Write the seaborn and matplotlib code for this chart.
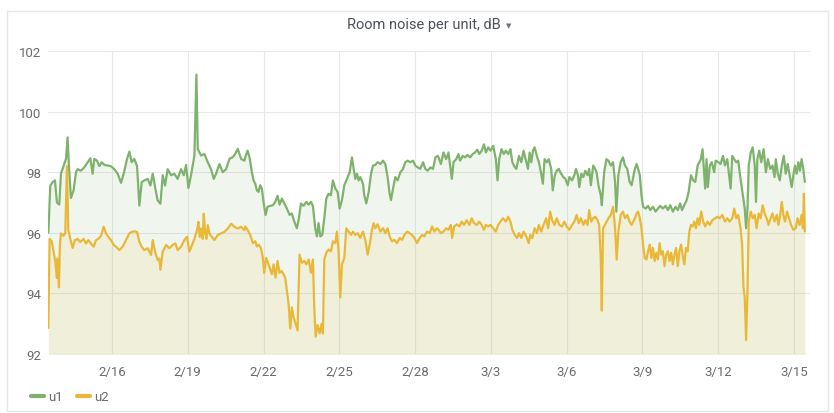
import pandas as pd
import numpy as np
import matplotlib
matplotlib.use("Agg")
import matplotlib.pyplot as plt
from matplotlib.lines import Line2D
from matplotlib.patches import Rectangle
import seaborn as sns

# Set style
sns.set_theme(style="white")
plt.rcParams['font.family'] = ['Roboto', 'DejaVu Sans']

# Data: hours after 2/16 00:00 and noise level in dB
u1_hours = [
    -60.5, -58.6, -56.4, -54.2, -52.3, -50.1, -48.5, -46.0, -43.7, -42.2,
    -40.9, -39.0, -36.5, -34.2, -32.7, -29.5, -26.3, -23.1, -20.6, -18.4,
    -16.8, -14.3, -12.0, -9.8, -7.3, -4.1, -1.0, 2.2, 5.4, 8.6,
    11.1, 14.3, 16.5, 18.7, 21.2, 23.8, 26.0, 28.2, 30.7, 33.9,
    36.5, 38.7, 41.8, 43.4, 46.0, 48.2, 50.4, 52.9, 56.1, 59.3,
    62.4, 65.6, 68.2, 70.4, 72.6, 75.1, 78.3, 80.2, 81.5, 84.6,
    87.8, 91.0, 94.1, 96.7, 98.9, 102.1, 105.2, 108.4, 111.6, 114.8,
    117.0, 119.5, 122.7, 125.8,
    126.6, 128.8, 130.7, 132.9, 134.5, 136.1, 137.7, 139.2, 140.8, 142.4,
    144.0, 145.9, 147.8, 150.3, 152.9, 155.1, 157.3, 159.2, 161.4, 163.7,
    166.2, 168.7, 170.9, 173.2, 175.7, 177.6, 179.5, 182.0, 184.6, 186.8,
    189.0, 190.9, 193.1, 194.7, 196.3, 197.9, 199.8, 201.7, 203.6, 205.8,
    208.0, 209.9, 212.2, 214.4, 216.3, 218.5, 220.7, 223.3, 225.8, 228.0,
    229.6, 231.2, 232.8, 234.3, 235.9, 238.5, 239.7, 241.6, 243.9, 246.1,
    248.0, 250.2, 252.4, 255.0, 257.5, 259.7, 261.9, 263.8, 265.1, 267.0,
    269.2, 271.4, 274.0, 276.5, 278.7, 280.9, 283.5, 286.0, 288.2, 290.5,
    293.0, 295.5, 297.7, 300.0, 302.5, 305.0, 307.3, 309.5,
    310.3, 312.5, 315.0, 317.5, 319.7, 321.9, 322.9, 324.5, 327.0, 329.2,
    330.7, 333.3, 335.5, 337.7, 340.2, 342.7, 344.9, 347.1, 349.0, 351.2,
    353.4, 355.3, 357.5, 359.7, 362.2, 364.7, 366.3, 367.9, 370.1, 372.3,
    374.2, 376.4, 378.6, 380.4, 382.7, 384.2, 386.7, 388.9, 391.1, 393.0,
    395.2, 396.8, 398.4, 400.0, 401.5, 403.7, 405.6, 407.8, 409.4, 411.0,
    413.2, 415.1, 417.3, 418.8, 420.7, 422.6, 424.5, 426.7, 428.9, 430.8,
    433.0, 434.6, 437.1, 439.3, 440.9, 442.7, 444.0, 445.9, 447.8, 449.7,
    451.9, 453.4, 455.0, 457.2, 459.1, 460.4, 462.2, 464.4, 465.4, 467.6,
    469.8, 471.7, 473.9, 476.1, 478.0, 479.2, 481.1, 483.3, 485.5, 487.4,
    489.6, 491.8, 493.7,
    496.8, 498.4, 499.9, 501.5, 503.1, 504.6, 507.1, 509.3, 511.5, 514.0,
    516.5, 518.7, 520.9, 523.4, 526.0, 528.2, 530.4, 532.9, 535.4, 537.6,
    539.8, 541.6, 543.8, 546.0, 547.9, 550.1, 552.3, 554.2, 556.4, 558.0,
    559.5, 561.1, 562.3, 563.6, 564.9, 566.1, 568.0, 569.9, 572.1, 573.6,
    576.2, 578.3, 580.5, 582.4, 584.6, 586.2, 587.8, 589.3, 591.2, 593.1,
    595.0, 597.2, 599.4, 601.2, 602.5, 603.8, 605.0, 606.9, 608.8, 610.7,
    611.9, 613.2, 615.0, 616.9, 619.1, 621.3, 623.2, 625.4, 627.6, 629.5,
    630.7, 632.6, 634.5, 636.4, 638.3, 640.1, 642.0, 644.2, 645.8, 647.4,
    648.9, 650.5, 652.1, 653.6, 655.2, 656.8, 658.3,
]
u1_db = [
    96.0, 97.56, 97.67, 97.73, 97.0, 96.93, 97.95, 98.2, 98.44, 99.15,
    98.2, 97.15, 97.4, 98.0, 98.1, 98.05, 98.16, 98.33, 98.46, 97.95,
    98.44, 98.38, 98.2, 98.33, 98.24, 98.22, 98.2, 98.1, 97.95, 97.65,
    97.95, 98.44, 98.68, 98.33, 98.44, 98.2, 96.9, 97.67, 97.73, 97.78,
    97.56, 97.95, 97.35, 97.07, 96.96, 97.9, 97.56, 98.1, 97.9, 97.95,
    97.78, 98.1, 97.9, 98.24, 97.48, 97.9, 98.55, 101.22, 98.77, 98.55,
    98.6, 98.33, 98.1, 97.78, 97.95, 98.27, 98.0, 98.1, 98.44, 98.5,
    98.6, 98.77, 98.44, 98.38,
    98.49, 98.71, 98.49, 98.0, 97.73, 97.62, 97.4, 97.35, 97.57, 97.46,
    97.02, 96.59, 96.86, 96.89, 96.91, 97.02, 97.22, 96.93, 97.13, 96.97,
    96.8, 96.59, 96.64, 96.37, 96.15, 96.48, 96.97, 96.89, 97.02, 96.93,
    97.02, 96.89, 96.15, 95.88, 96.32, 95.88, 95.93, 96.48, 97.13, 97.29,
    97.24, 97.73, 97.46, 97.35, 96.8, 97.08, 97.57, 97.78, 98.0, 98.49,
    98.11, 97.78, 97.95, 97.73, 97.84, 97.62, 97.24, 96.97, 97.35, 97.95,
    98.22, 98.24, 98.33, 98.27, 98.38, 98.27, 97.84, 97.29, 97.08, 97.46,
    97.84, 97.73, 98.0, 98.11, 98.33, 98.38, 98.33, 98.38, 98.22, 98.16,
    98.11, 98.33, 98.11, 98.05, 98.16, 98.11, 98.49, 98.54,
    98.49, 98.27, 98.65, 98.43, 98.65, 98.05, 97.78, 98.33, 98.43, 98.6,
    98.38, 98.54, 98.49, 98.57, 98.49, 98.6, 98.65, 98.74, 98.6, 98.71,
    98.92, 98.65, 98.82, 98.71, 98.87, 98.43, 97.73, 98.43, 98.76, 98.6,
    98.71, 98.6, 98.76, 98.33, 98.16, 98.11, 98.54, 98.33, 98.71, 98.43,
    98.11, 98.65, 98.33, 98.71, 98.82, 98.54, 98.33, 97.95, 97.62, 98.43,
    98.33, 98.43, 98.11, 97.4, 97.9, 98.05, 98.11, 97.95, 97.84, 97.78,
    97.57, 97.84, 97.73, 97.9, 98.11, 97.9, 97.51, 97.95, 97.84, 98.05,
    97.9, 98.11, 97.57, 98.22, 98.11, 98.0, 97.57, 97.24, 96.91, 98.0,
    98.43, 98.38, 98.22, 98.33, 97.68, 96.7, 97.9, 98.33, 98.49, 98.22,
    98.11, 97.68, 97.57,
    98.11, 98.27, 98.11, 97.9, 97.24, 96.86, 96.8, 96.89, 96.75, 96.86,
    96.7, 96.8, 96.89, 96.8, 96.89, 96.75, 96.91, 96.7, 96.86, 96.75,
    96.97, 96.75, 96.91, 97.08, 97.35, 97.9, 97.73, 97.68, 98.22, 98.33,
    98.43, 98.76, 98.11, 97.46, 98.43, 97.51, 98.22, 98.33, 98.0, 98.38,
    98.33, 98.27, 98.54, 98.22, 98.43, 97.95, 97.46, 98.54, 98.43, 98.33,
    98.38, 97.78, 97.24, 96.8, 96.15, 96.8, 98.22, 98.65, 98.82, 98.22,
    97.02, 98.43, 98.71, 98.33, 98.76, 98.0, 98.43, 98.11, 98.22, 97.84,
    98.43, 97.95, 97.73, 98.22, 98.54, 97.95, 98.27, 97.84, 97.51, 97.9,
    98.22, 97.95, 98.33, 98.05, 98.43, 98.11, 97.68,
]

u2_hours = [
    -60.5, -59.3, -57.4, -55.5, -53.9, -52.3, -51.7, -50.4, -49.5, -48.5,
    -46.0, -44.4, -42.8, -41.5, -39.6, -37.4, -35.2, -32.7, -30.1, -26.9,
    -24.7, -22.5, -20.0, -17.4, -15.2, -13.0, -10.5, -7.9, -5.7, -3.5,
    -1.0, 1.6, 3.8, 7.0, 10.1, 13.3, 16.5, 18.7, 21.2, 23.8,
    26.0, 28.2, 30.7, 33.9, 37.1, 38.7, 40.9, 43.4, 45.0, 46.0,
    48.2, 51.4, 54.5, 57.7, 60.2, 62.4, 65.6, 68.8, 71.3, 73.5,
    76.1, 78.3, 80.8, 82.1, 83.4, 84.6, 86.2, 87.2, 88.4, 89.7,
    91.0, 92.6, 94.1, 97.3, 100.5, 103.7, 106.8, 110.0, 113.2, 116.3,
    119.5, 122.7, 125.8,
    126.6, 128.8, 131.3, 133.9, 136.1, 137.7, 139.2, 141.5, 143.4, 144.6,
    146.5, 148.8, 150.3, 151.9, 153.5, 155.4, 157.3, 159.2, 161.1, 163.0,
    164.6, 166.2, 167.8, 169.4, 170.9, 172.5, 174.1, 176.3, 178.2, 180.5,
    182.7, 184.6, 186.8, 189.0, 190.9, 192.2, 193.5, 195.4, 197.3, 199.2,
    200.4, 201.7, 203.6, 205.8, 208.0, 209.9, 212.2, 213.7, 215.3, 216.9,
    218.5, 220.7, 222.6, 224.8, 227.1, 229.0, 231.2, 233.4, 235.9, 238.5,
    240.7, 242.9, 244.8, 247.0, 248.6, 250.2, 252.4, 255.0, 257.5, 259.7,
    261.9, 263.8, 266.0, 268.3, 270.8, 273.3, 275.6, 277.8, 280.3, 282.8,
    285.1, 287.3, 289.8, 292.4, 294.6, 296.8, 299.3, 301.9, 304.1, 306.3,
    308.8,
    310.3, 312.5, 315.0, 317.5, 319.7, 321.9, 323.2, 325.1, 327.6, 330.1,
    332.3, 334.5, 337.0, 339.6, 341.8, 344.0, 346.5, 349.0, 351.2, 353.4,
    355.3, 357.5, 359.7, 362.2, 364.7, 366.9, 369.1, 371.6, 374.2, 376.4,
    378.6, 380.4, 382.7, 384.9, 386.7, 388.9, 391.1, 393.7, 395.9, 397.4,
    399.3, 401.5, 403.7, 405.6, 407.8, 410.0, 412.5, 414.4, 416.3, 418.2,
    420.4, 422.6, 425.1, 427.6, 429.8, 432.0, 434.6, 437.1, 439.3, 441.5,
    443.4, 445.6, 447.8, 449.7, 451.9, 453.4, 455.3, 457.2, 459.1, 461.3,
    462.9, 464.4, 465.4, 466.6, 469.2, 471.7, 473.9, 476.1, 478.0, 479.5,
    481.1, 483.3, 485.5, 487.4, 489.6, 491.8, 493.7,
    496.8, 498.4, 499.9, 501.5, 503.1, 504.6, 506.2, 507.8, 509.3, 510.9,
    512.5, 514.0, 515.6, 517.2, 518.7, 520.3, 521.9, 523.4, 525.0, 526.6,
    528.2, 529.7, 531.3, 532.9, 534.4, 536.0, 537.6, 539.1, 540.7, 542.3,
    543.8, 545.4, 547.0, 548.5, 550.1, 551.7, 553.2, 554.8, 556.4, 558.0,
    559.8, 561.7, 563.6, 565.8, 568.0, 570.5, 573.0, 575.2, 577.4, 579.9,
    582.4, 584.6, 586.8, 589.3, 591.2, 593.1, 595.0, 597.2, 598.7, 600.0,
    601.2, 602.5, 603.8, 605.0, 606.9, 608.8, 610.7, 612.5, 614.4, 616.3,
    618.2, 620.1, 622.0, 623.8, 625.7, 627.6, 629.5, 631.7, 633.2, 635.1,
    636.4, 637.9, 639.5, 641.4, 643.3, 645.2, 647.4, 649.6, 651.4, 653.3,
    655.2, 656.5, 657.4, 658.3,
]
u2_db = [
    92.86, 95.8, 95.73, 95.4, 95.05, 94.5, 95.15, 94.2, 95.6, 95.98,
    95.9, 96.0, 98.2, 96.1, 95.8, 95.5, 95.76, 95.8, 95.7, 95.8,
    95.65, 95.76, 95.65, 95.54, 95.76, 95.8, 95.9, 96.2, 95.98, 95.87,
    95.76, 95.6, 95.54, 95.43, 95.54, 95.76, 95.98, 96.03, 96.05, 96.03,
    95.7, 95.54, 95.43, 95.49, 95.27, 95.76, 95.38, 95.1, 95.15, 94.78,
    95.38, 95.6, 95.49, 95.6, 95.65, 95.43, 95.54, 95.76, 95.87, 95.38,
    95.6, 95.8, 96.09, 96.36, 95.87, 96.14, 95.8, 96.63, 96.03, 95.8,
    96.25, 95.98, 95.9, 95.76, 95.93, 95.98, 96.03, 96.14, 96.3, 96.2,
    96.14, 96.2, 96.09,
    96.21, 96.1, 95.93, 95.66, 95.72, 95.55, 95.61, 95.5, 95.17, 94.68,
    95.17, 94.96, 94.79, 94.63, 94.96, 94.52, 95.07, 94.68, 94.74, 94.63,
    94.52, 94.09, 93.65, 92.84, 93.54, 93.22, 93.05, 92.78, 95.28, 95.01,
    95.07, 94.96, 95.12, 94.68, 95.12, 93.54, 92.57, 92.95, 92.68, 93.0,
    92.68, 95.12, 95.34, 95.45, 95.39, 95.72, 95.66, 96.04, 95.39, 93.87,
    94.96, 95.17, 96.15, 96.04, 95.93, 96.04, 95.93, 95.99, 95.83, 96.04,
    95.77, 95.28, 95.61, 96.1, 96.32, 96.15, 96.28, 96.04, 96.15, 95.99,
    96.15, 95.88, 95.72, 95.77, 95.66, 95.83, 95.77, 95.93, 96.04, 95.99,
    95.93, 95.83, 95.66, 95.83, 95.93, 95.88, 96.04, 95.99, 96.21, 96.04,
    96.15,
    96.1, 95.99, 96.04, 96.15, 96.1, 96.26, 95.83, 96.21, 96.28, 96.21,
    96.37, 96.26, 96.42, 96.26, 96.48, 96.32, 96.26, 96.37, 96.26, 96.1,
    96.26, 96.21, 96.26, 96.15, 96.04, 96.26, 96.37, 96.48, 96.37, 96.53,
    96.37, 96.1, 95.93, 95.83, 95.99, 95.83, 96.04, 95.88, 95.66, 95.93,
    95.83, 96.15, 95.99, 96.26, 96.04, 96.26, 96.48, 96.15, 96.7, 96.42,
    96.26, 96.48, 96.26, 96.21, 96.37, 96.21, 96.1, 96.26, 96.37, 96.59,
    96.32, 96.48, 96.26, 96.42, 96.26, 96.75, 96.37, 96.48, 96.53, 96.42,
    96.26, 95.17, 93.43, 96.15, 96.32, 96.48, 96.59, 96.86, 96.15, 95.12,
    96.04, 96.59, 96.7, 96.48, 96.59, 96.37, 96.26,
    96.48, 96.64, 96.7, 96.48, 96.15, 95.61, 95.17, 95.12, 95.39, 95.61,
    95.17, 95.5, 95.07, 95.34, 95.12, 95.66, 95.28, 95.39, 94.9, 95.28,
    95.39, 95.07, 95.34, 94.96, 95.28, 95.5, 94.9, 95.39, 95.61, 95.23,
    94.96, 95.5, 95.39, 96.04, 96.26, 96.21, 96.37, 96.15, 96.48, 96.26,
    96.7, 96.37, 96.21, 96.37, 96.26, 96.42, 96.48, 96.53, 96.48, 96.59,
    96.37, 96.48, 96.37, 96.48, 96.8, 96.48, 96.59, 96.15, 95.61, 94.2,
    93.87, 92.46, 94.09, 96.37, 96.7, 96.48, 96.59, 96.15, 96.64, 96.48,
    96.91, 96.64, 96.48, 96.26, 96.48, 96.64, 96.37, 96.59, 96.26, 96.64,
    97.02, 96.59, 96.37, 96.7, 96.48, 96.26, 96.1, 96.15, 96.48, 96.26,
    96.59, 96.15, 97.29, 96.04,
]

tick_labels = ['2/16', '2/19', '2/22', '2/25', '2/28', '3/3', '3/6', '3/9', '3/12', '3/15']
y_ticks = [92, 94, 96, 98, 100, 102]

base = pd.Timestamp('2019-02-16')
u1_time = base + pd.to_timedelta(u1_hours, unit='h')
u2_time = base + pd.to_timedelta(u2_hours, unit='h')
tick_dates = [base + pd.Timedelta(days=3 * i) for i in range(len(tick_labels))]

green = '#7eb26d'
yellow = '#eab839'

fig = plt.figure(figsize=(8.34, 4.14), dpi=100)
fig.patch.set_facecolor('white')
ax = fig.add_axes([48 / 834, 1 - 355 / 414, 762 / 834, 303 / 414])

# Panel border
fig.patches.append(Rectangle((7 / 834, 2 / 414), 821 / 834, 400 / 414,
                             transform=fig.transFigure, fill=False,
                             edgecolor='#e6e6e6', linewidth=1.0))

ax.fill_between(u1_time, u1_db, 90, color=green, alpha=0.11, linewidth=0, zorder=1)
ax.fill_between(u2_time, u2_db, 90, color=yellow, alpha=0.11, linewidth=0, zorder=1)
sns.lineplot(x=u1_time, y=u1_db, ax=ax, color=green, linewidth=1.6, estimator=None, sort=False, zorder=3)
sns.lineplot(x=u2_time, y=u2_db, ax=ax, color=yellow, linewidth=1.6, estimator=None, sort=False, zorder=4)

ax.set_xlim(base - pd.Timedelta(hours=60.8), base + pd.Timedelta(hours=663.2))
ax.set_ylim(92, 102)
ax.set_yticks(y_ticks)
ax.set_yticklabels([str(v) for v in y_ticks])
ax.set_xticks(tick_dates)
ax.set_xticklabels(tick_labels)
ax.set_xlabel('')
ax.set_ylabel('')
ax.grid(True, color='#e8e8e8', linewidth=0.8, zorder=0)
ax.set_axisbelow(True)
for s in ax.spines.values():
    s.set_visible(False)
ax.tick_params(axis='both', length=0, labelsize=9.5, labelcolor='#6b6b6b')
ax.tick_params(axis='x', pad=8)
ax.tick_params(axis='y', pad=5)

# Panel title with the small dropdown caret
fig.text(424 / 834, 1 - 25 / 414, 'Room noise per unit, dB', ha='center', va='center',
         fontsize=10.5, color='#4e535a')
fig.text(509 / 834, 1 - 26 / 414, '\u25bc', ha='center', va='center',
         fontsize=5, color='#6e7278', family=['DejaVu Sans'])

handles = [Line2D([0], [0], color=green, linewidth=3),
           Line2D([0], [0], color=yellow, linewidth=3)]
fig.legend(handles, ['u1', 'u2'], loc='center left', bbox_to_anchor=(31 / 834, 1 - 398 / 414),
           ncol=2, frameon=False, handlelength=0.95, handletextpad=0.35, columnspacing=1.1,
           borderpad=0, borderaxespad=0, fontsize=9.5, labelcolor='#6b6b6b')

fig.savefig('out.png', dpi=100, facecolor='white')
